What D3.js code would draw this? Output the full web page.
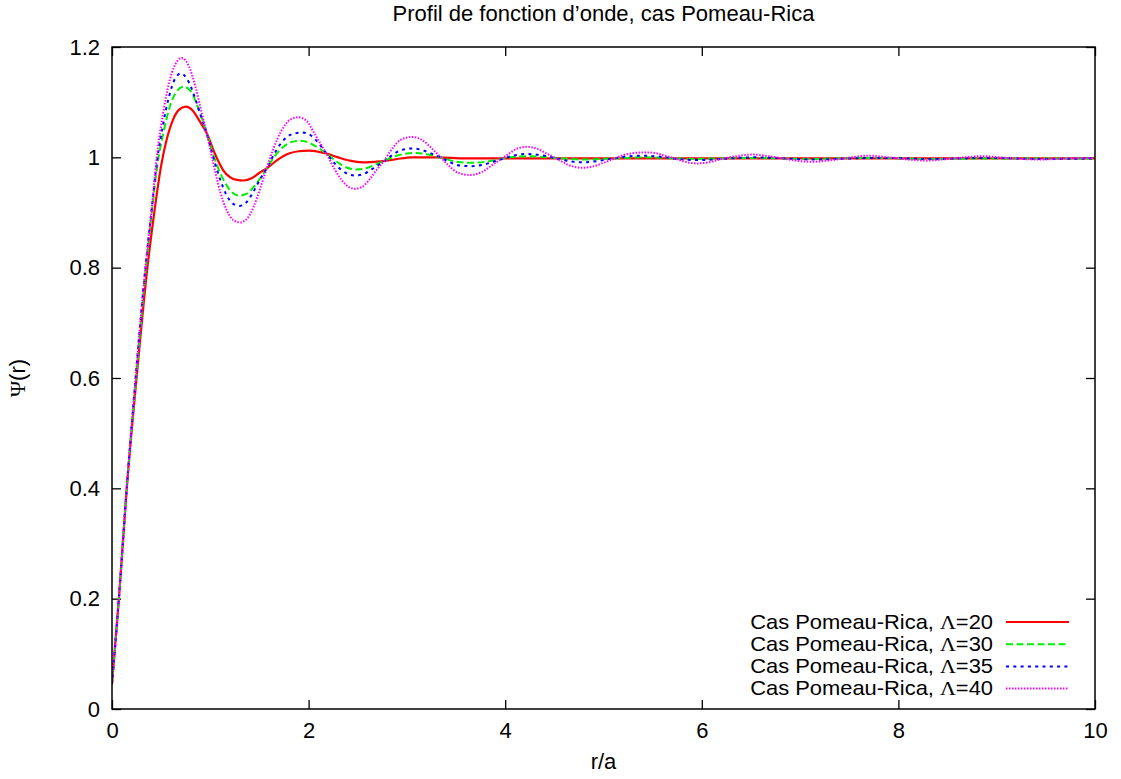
<!DOCTYPE html>
<html>
<head>
<meta charset="utf-8">
<script src="https://cdn.jsdelivr.net/npm/d3@7"></script>
<style>
  html, body { margin: 0; padding: 0; background: #fff; }
  svg { display: block; }
  text { font-family: "Liberation Sans", Arial, Helvetica, sans-serif; fill: #000; }
  .greek { font-family: "Liberation Serif", "DejaVu Serif", serif; }
</style>
</head>
<body>
<svg id="chart" width="1121" height="779"></svg>
<script>
// ---------------- data ----------------
const titleText = "Profil de fonction d\u2019onde, cas Pomeau-Rica";
const xLabel = "r/a";
const yLabelGreek = "\u03A8";
const yLabelRest = "(r)";
const xTicks = [0, 2, 4, 6, 8, 10];
const yTicks = [0, 0.2, 0.4, 0.6, 0.8, 1, 1.2];
const seriesPrefix = "Cas Pomeau-Rica, ";
const seriesGreek = "\u039B";
const seriesLambda = ["=20", "=30", "=35", "=40"];
const seriesColors = ["#ff0000", "#00ee00", "#0000ff", "#ff00ff"];

// [r/a, Psi(r)]
const lambda20 = [[0,0.045],[0.07,0.2],[0.15,0.4],[0.25,0.6],[0.36,0.8],[0.43,0.9],[0.50,0.985],[0.56,1.035],[0.62,1.068],[0.68,1.086],[0.75,1.092],[0.82,1.085],[0.89,1.066],[0.963,1.044],[1.05,1.005],[1.13,0.977],[1.2,0.964],[1.27,0.959],[1.34,0.958],[1.42,0.962],[1.5,0.972],[1.574,0.98],[1.68,0.995],[1.8,1.007],[1.9,1.011],[2.0,1.012],[2.1,1.01],[2.18,1.007],[2.3,1.0],[2.42,0.994],[2.55,0.991],[2.68,0.992],[2.76,0.993],[2.9,0.997],[3.05,1.0],[3.3,1.0],[3.6,0.998],[4.2,0.998],[5,0.998],[6,0.998],[7,0.998],[8,0.998],[9,0.998],[10,0.998]];

const lambda30 = [[0,0.045],[0.07,0.2],[0.15,0.4],[0.245,0.6],[0.345,0.8],[0.405,0.9],[0.465,0.99],[0.53,1.05],[0.59,1.093],[0.66,1.12],[0.73,1.128],[0.80,1.12],[0.87,1.093],[0.963,1.044],[1.03,1.005],[1.1,0.972],[1.17,0.948],[1.24,0.934],[1.30,0.9305],[1.37,0.934],[1.45,0.948],[1.574,0.98],[1.66,1.003],[1.75,1.02],[1.83,1.028],[1.91,1.03],[2.0,1.027],[2.1,1.017],[2.18,1.007],[2.28,0.993],[2.38,0.982],[2.48,0.978],[2.58,0.98],[2.68,0.987],[2.76,0.993],[2.88,1.002],[3.0,1.007],[3.1,1.008],[3.22,1.005],[3.34,1.0],[3.48,0.993],[3.64,0.99],[3.8,0.992],[3.95,0.997],[4.1,1.001],[4.25,1.002],[4.5,0.999],[4.8,0.996],[5.1,0.998],[5.42,1.0],[5.9,0.997],[6.5,0.999],[7.1,0.997],[7.7,0.999],[8.3,0.997],[9.0,0.998],[10,0.998]];

const lambda35 = [[0,0.045],[0.07,0.2],[0.15,0.4],[0.24,0.6],[0.34,0.8],[0.40,0.9],[0.46,0.995],[0.52,1.06],[0.58,1.11],[0.64,1.142],[0.70,1.152],[0.77,1.14],[0.84,1.11],[0.90,1.077],[0.963,1.044],[1.03,1.0],[1.1,0.96],[1.17,0.93],[1.23,0.916],[1.295,0.912],[1.36,0.917],[1.43,0.935],[1.5,0.958],[1.574,0.98],[1.65,1.006],[1.73,1.028],[1.83,1.042],[1.93,1.045],[2.02,1.04],[2.1,1.026],[2.18,1.007],[2.26,0.99],[2.34,0.976],[2.41,0.969],[2.47,0.967],[2.55,0.969],[2.64,0.978],[2.76,0.992],[2.85,1.004],[2.94,1.013],[3.05,1.016],[3.16,1.013],[3.26,1.006],[3.34,1.0],[3.44,0.991],[3.54,0.985],[3.64,0.984],[3.76,0.986],[3.86,0.991],[3.95,0.996],[4.08,1.003],[4.22,1.006],[4.36,1.004],[4.52,0.998],[4.65,0.993],[4.79,0.991],[4.93,0.993],[5.10,0.998],[5.25,1.002],[5.42,1.003],[5.58,1.001],[5.75,0.997],[5.95,0.995],[6.2,0.997],[6.52,1.0],[6.85,0.998],[7.13,0.996],[7.5,0.998],[7.9,0.999],[8.3,0.997],[8.9,0.999],[9.44,0.997],[10,0.998]];

const lambda40 = [[0,0.045],[0.07,0.2],[0.15,0.4],[0.24,0.6],[0.34,0.8],[0.40,0.9],[0.455,1.0],[0.52,1.08],[0.58,1.135],[0.64,1.167],[0.71,1.18],[0.78,1.166],[0.85,1.127],[0.91,1.083],[0.963,1.044],[1.03,0.99],[1.1,0.938],[1.17,0.903],[1.23,0.887],[1.30,0.882],[1.37,0.888],[1.44,0.91],[1.51,0.945],[1.574,0.98],[1.64,1.015],[1.72,1.047],[1.81,1.068],[1.895,1.0725],[1.98,1.066],[2.06,1.043],[2.12,1.025],[2.18,1.007],[2.26,0.98],[2.34,0.958],[2.41,0.946],[2.47,0.943],[2.54,0.946],[2.62,0.96],[2.69,0.977],[2.76,0.992],[2.84,1.013],[2.93,1.031],[3.05,1.037],[3.16,1.031],[3.26,1.015],[3.34,1.001],[3.42,0.986],[3.52,0.972],[3.64,0.968],[3.76,0.973],[3.86,0.985],[3.95,0.996],[4.05,1.008],[4.12,1.016],[4.22,1.019],[4.32,1.016],[4.42,1.007],[4.52,0.998],[4.62,0.988],[4.70,0.983],[4.79,0.981],[4.88,0.983],[5.0,0.99],[5.10,0.997],[5.22,1.005],[5.32,1.008],[5.42,1.009],[5.52,1.008],[5.62,1.003],[5.71,0.999],[5.83,0.992],[5.95,0.989],[6.07,0.991],[6.2,0.997],[6.35,1.002],[6.52,1.005],[6.68,1.002],[6.85,0.997],[7.0,0.993],[7.13,0.992],[7.28,0.994],[7.45,0.998],[7.68,1.003],[7.9,1.0],[8.1,0.996],[8.29,0.994],[8.5,0.997],[8.86,1.002],[9.1,0.999],[9.44,0.996],[9.7,0.998],[10,0.999]];

const seriesData = [lambda20, lambda30, lambda35, lambda40];

// ---------------- layout / style ----------------
const margin = { left: 112, right: 1121 - 1095, top: 47, bottom: 779 - 709 };
const W = 1121, H = 779;
const iw = W - margin.left - margin.right;
const ih = H - margin.top - margin.bottom;
const dashes = [null, "7,3.5", "3,4.3", "1.5,1.5"];
const widths = [2.2, 2, 2, 2];
const fontSize = 22;
const legendFontSize = 19.6;
const legendTextWidth = 243;

const svg = d3.select("#chart");
const x = d3.scaleLinear().domain([0, 10]).range([margin.left, margin.left + iw]);
const y = d3.scaleLinear().domain([0, 1.2]).range([margin.top + ih, margin.top]);

const clipId = "plotclip";
svg.append("defs").append("clipPath").attr("id", clipId)
  .append("rect").attr("x", margin.left).attr("y", margin.top).attr("width", iw).attr("height", ih);

// axes with inward ticks (mirrored)
const tickLen = 9;
const fmt = d => String(+d.toFixed(1));
const gx = svg.append("g").attr("transform", `translate(0,${margin.top + ih})`)
  .call(d3.axisBottom(x).tickValues(xTicks).tickFormat(fmt).tickSizeInner(-tickLen).tickSizeOuter(0).tickPadding(13));
const gxTop = svg.append("g").attr("transform", `translate(0,${margin.top})`)
  .call(d3.axisTop(x).tickValues(xTicks).tickFormat("").tickSizeInner(-tickLen).tickSizeOuter(0));
const gy = svg.append("g").attr("transform", `translate(${margin.left},0)`)
  .call(d3.axisLeft(y).tickValues(yTicks).tickFormat(fmt).tickSizeInner(-tickLen).tickSizeOuter(0).tickPadding(12));
const gyR = svg.append("g").attr("transform", `translate(${margin.left + iw},0)`)
  .call(d3.axisRight(y).tickValues(yTicks).tickFormat("").tickSizeInner(-tickLen).tickSizeOuter(0));
[gx, gxTop, gy, gyR].forEach(g => {
  g.select(".domain").remove();
  g.selectAll(".tick line").attr("stroke", "#000").attr("stroke-width", 1.3);
  g.selectAll(".tick text").attr("font-size", fontSize).attr("font-family", "Liberation Sans, Arial, sans-serif").attr("fill", "#000");
});

// curves
const line = d3.line().x(d => x(d[0])).y(d => y(d[1])).curve(d3.curveMonotoneX);
const plot = svg.append("g").attr("clip-path", `url(#${clipId})`);
seriesData.forEach((data, i) => {
  plot.append("path").datum(data)
    .attr("fill", "none")
    .attr("stroke", seriesColors[i])
    .attr("stroke-width", widths[i])
    .attr("stroke-dasharray", dashes[i])
    .attr("d", line);
});

// frame
svg.append("rect").attr("x", margin.left).attr("y", margin.top).attr("width", iw).attr("height", ih)
  .attr("fill", "none").attr("stroke", "#000").attr("stroke-width", 1.5);

// legend (text slightly widened to mimic the reference's wide glyphs, rows kept apart)
const legRight = 993, lineX0 = 1006, lineX1 = 1069, legY0 = 622, legDy = 22.2;
seriesLambda.forEach((suffix, i) => {
  const yy = legY0 + i * legDy;
  const g = svg.append("g").attr("transform", `translate(${legRight},${yy})`);
  const t = g.append("text").attr("x", 0).attr("y", 0).attr("dy", "0.35em")
    .attr("text-anchor", "end").attr("font-size", legendFontSize);
  t.append("tspan").text(seriesPrefix);
  t.append("tspan").attr("class", "greek").text(seriesGreek);
  t.append("tspan").text(suffix);
  const natural = t.node().getComputedTextLength();
  if (natural > 0) t.attr("transform", `scale(${legendTextWidth / natural},1)`);
  svg.append("line").attr("x1", lineX0).attr("x2", lineX1).attr("y1", yy).attr("y2", yy)
    .attr("stroke", seriesColors[i]).attr("stroke-width", widths[i]).attr("stroke-dasharray", dashes[i]);
});

// title and axis labels
svg.append("text").attr("x", (margin.left + margin.left + iw) / 2).attr("y", 21)
  .attr("text-anchor", "middle").attr("font-size", fontSize).text(titleText);
svg.append("text").attr("x", margin.left + iw / 2).attr("y", 769)
  .attr("text-anchor", "middle").attr("font-size", fontSize).text(xLabel);
const yl = svg.append("text").attr("transform", `translate(25,${margin.top + ih / 2}) rotate(-90)`)
  .attr("text-anchor", "middle").attr("font-size", fontSize);
yl.append("tspan").attr("class", "greek").text(yLabelGreek);
yl.append("tspan").text(yLabelRest);
</script>
</body>
</html>
